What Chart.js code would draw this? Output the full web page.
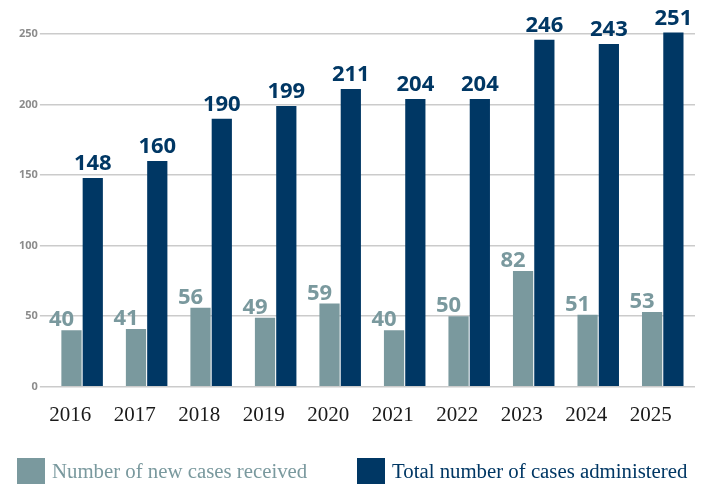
<!DOCTYPE html>
<html>
<head>
<meta charset="utf-8">
<script src="https://cdn.jsdelivr.net/npm/chart.js@4.4.1/dist/chart.umd.min.js"></script>
<style>
  html, body { margin: 0; padding: 0; background: #ffffff; }
  #wrap { position: relative; width: 711px; height: 485px; }
  #legend { position: absolute; left: 0; top: 458px; width: 711px; height: 26px;
            font-family: "Liberation Serif", serif; font-size: 20.8px; }
  .item { position: absolute; top: 0; height: 26px; line-height: 26px; white-space: nowrap; }
  .box { display: inline-block; width: 28px; height: 26px; vertical-align: top; margin-right: 7px; }
</style>
</head>
<body>
<div id="wrap">
  <canvas id="myChart" width="711" height="485"></canvas>
  <div id="legend"></div>
</div>
<script>
// Dati
const years = ["2016", "2017", "2018", "2019", "2020", "2021", "2022", "2023", "2024", "2025"];
const newCases = [40, 41, 56, 49, 59, 40, 50, 82, 51, 53];
const totalCases = [148, 160, 190, 199, 211, 204, 204, 246, 243, 251];
const yTicks = [0, 50, 100, 150, 200, 250];

const GRAY = "#7a999e";
const NAVY = "#003764";

// Etichette dei valori sopra le barre
const valueLabels = {
  id: "valueLabels",
  afterDatasetsDraw(chart) {
    const ctx = chart.ctx;
    chart.data.datasets.forEach((ds, i) => {
      const meta = chart.getDatasetMeta(i);
      meta.data.forEach((bar, j) => {
        ctx.save();
        ctx.font = '700 22px "Open Sans"';
        ctx.fillStyle = ds.backgroundColor;
        ctx.textAlign = "center";
        ctx.textBaseline = "alphabetic";
        ctx.fillText(String(ds.data[j]), bar.x + ds.labelShift, bar.y - ds.labelGap);
        ctx.restore();
      });
    });
  }
};

const ctx = document.getElementById("myChart");
const chart = new Chart(ctx, {
  type: "bar",
  data: {
    labels: years,
    datasets: [
      {
        label: "Number of new cases received",
        data: newCases,
        backgroundColor: GRAY,
        categoryPercentage: 0.66,
        barPercentage: 0.95,
        labelShift: -10,
        labelGap: 4,
        clip: false
      },
      {
        label: "Total number of cases administered",
        data: totalCases,
        backgroundColor: NAVY,
        categoryPercentage: 0.66,
        barPercentage: 0.95,
        labelShift: 0,
        labelGap: 8,
        clip: false
      }
    ]
  },
  options: {
    responsive: false,
    animation: false,
    layout: { padding: { left: 17, right: 16, top: 34, bottom: 49 } },
    plugins: {
      tooltip: { enabled: false },
      legend: { display: false }
    },
    scales: {
      x: {
        grid: { display: false },
        border: { display: false },
        ticks: {
          color: "#1a1a1a",
          font: { family: "Liberation Serif", size: 21 },
          padding: 8,
          labelOffset: -12,
          maxRotation: 0
        }
      },
      y: {
        min: 0,
        max: 250,
        afterBuildTicks(axis) {
          axis.ticks = yTicks.map(v => ({ value: v }));
        },
        border: { display: false },
        grid: {
          color: "#cbcbcb",
          lineWidth: 1.5,
          drawTicks: true,
          tickLength: 10,
          tickColor: "#cbcbcb"
        },
        ticks: {
          color: "#8c8c8c",
          font: { family: "Open Sans", size: 11, weight: "700" },
          padding: 2
        }
      }
    }
  },
  plugins: [valueLabels]
});

// Legenda HTML costruita dai dataset
const legendEl = document.getElementById("legend");
const legendLeft = [17, 357];
chart.data.datasets.forEach((ds, i) => {
  const item = document.createElement("div");
  item.className = "item";
  item.style.left = legendLeft[i] + "px";
  item.style.color = ds.backgroundColor;
  const box = document.createElement("span");
  box.className = "box";
  box.style.background = ds.backgroundColor;
  item.appendChild(box);
  item.appendChild(document.createTextNode(ds.label));
  legendEl.appendChild(item);
});
</script>
</body>
</html>
